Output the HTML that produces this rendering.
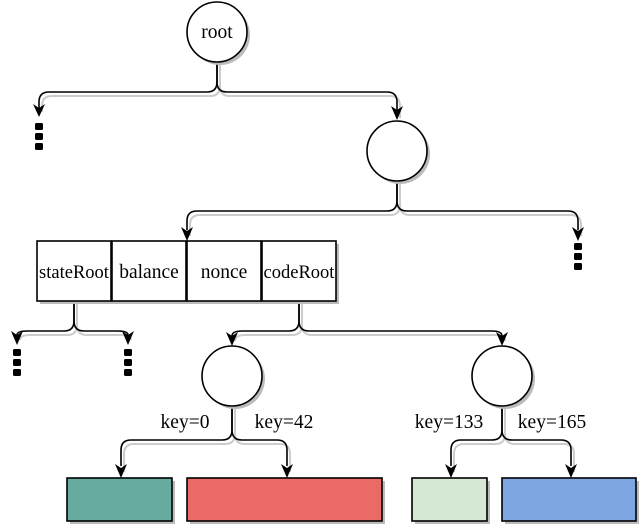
<!DOCTYPE html>
<html><head><meta charset="utf-8"><style>
html,body{margin:0;padding:0;background:#fff;}
svg{display:block;}
text{font-family:"Liberation Serif",serif;font-size:19.5px;fill:#000;}
</style></head><body>
<svg width="641" height="528" viewBox="0 0 641 528" xmlns="http://www.w3.org/2000/svg">
<g fill="none" stroke="#ccc" stroke-width="2">
<path d="M220,65 V86 Q220,96 210,96 H52 Q42,96 42,106 V112"/>
<path d="M220,65 V86 Q220,96 230,96 H390 Q400,96 400,106 V118"/>
<path d="M400,184 V205 Q400,215 390,215 H200 Q190,215 190,225 V236"/>
<path d="M400,184 V205 Q400,215 410,215 H571 Q581,215 581,225 V236"/>
<path d="M77,304 V325 Q77,335 67,335 H30 Q20,335 20,340"/>
<path d="M77,304 V325 Q77,335 87,335 H121 Q131,335 131,340"/>
<path d="M302,304 V325 Q302,335 292,335 H245 Q235,335 235,341"/>
<path d="M302,304 V325 Q302,335 312,335 H495 Q505,335 505,341"/>
<path d="M235,409 V434 Q235,444 225,444 H134 Q124,444 124,454 V472"/>
<path d="M235,409 V434 Q235,444 245,444 H280 Q290,444 290,454 V472"/>
<path d="M505,409 V434 Q505,444 495,444 H464 Q454,444 454,454 V472"/>
<path d="M505,409 V434 Q505,444 515,444 H564 Q574,444 574,454 V472"/>
</g>
<g fill="none" stroke="#000" stroke-width="1.6">
<path d="M217,62 V82 Q217,92 207,92 H49 Q39,92 39,102 V108"/>
<path d="M217,62 V82 Q217,92 227,92 H387 Q397,92 397,102 V110"/>
<path d="M397,181 V201 Q397,211 387,211 H197 Q187,211 187,221 V230"/>
<path d="M397,181 V201 Q397,211 407,211 H568 Q578,211 578,221 V230"/>
<path d="M74,301 V321 Q74,331 64,331 H27 Q17,331 17,335"/>
<path d="M74,301 V321 Q74,331 84,331 H118 Q128,331 128,335"/>
<path d="M299,301 V321 Q299,331 289,331 H242 Q232,331 232,336"/>
<path d="M299,301 V321 Q299,331 309,331 H492 Q502,331 502,336"/>
<path d="M232,406 V430 Q232,440 222,440 H131 Q121,440 121,450 V466"/>
<path d="M232,406 V430 Q232,440 242,440 H277 Q287,440 287,450 V466"/>
<path d="M502,406 V430 Q502,440 492,440 H461 Q451,440 451,450 V466"/>
<path d="M502,406 V430 Q502,440 512,440 H561 Q571,440 571,450 V466"/>
</g>
<g fill="#000">
<path d="M33,104 L39,117 L45,104 L39,108Z"/>
<path d="M391,106 L397,120 L403,106 L397,110Z"/>
<path d="M181,227 L187,241 L193,227 L187,231Z"/>
<path d="M572,227 L578,241 L584,227 L578,231Z"/>
<path d="M11,331 L17,345 L23,331 L17,335Z"/>
<path d="M122,331 L128,345 L134,331 L128,335Z"/>
<path d="M226,332 L232,346 L238,332 L232,336Z"/>
<path d="M496,332 L502,346 L508,332 L502,336Z"/>
<path d="M115,464 L121,478 L127,464 L121,468Z"/>
<path d="M281,464 L287,478 L293,464 L287,468Z"/>
<path d="M445,464 L451,478 L457,464 L451,468Z"/>
<path d="M565,464 L571,478 L577,464 L571,468Z"/>
<rect x="35" y="123" width="8" height="7" rx="1.5"/><rect x="35" y="133" width="8" height="7" rx="1.5"/><rect x="35" y="143" width="8" height="7" rx="1.5"/>
<rect x="574" y="243" width="8" height="7" rx="1.5"/><rect x="574" y="253" width="8" height="7" rx="1.5"/><rect x="574" y="263" width="8" height="7" rx="1.5"/>
<rect x="13" y="349" width="8" height="7" rx="1.5"/><rect x="13" y="359" width="8" height="7" rx="1.5"/><rect x="13" y="369" width="8" height="7" rx="1.5"/>
<rect x="124" y="349" width="8" height="7" rx="1.5"/><rect x="124" y="359" width="8" height="7" rx="1.5"/><rect x="124" y="369" width="8" height="7" rx="1.5"/>
</g>
<g fill="#bbb">
<circle cx="220" cy="35" r="30"/><circle cx="400" cy="154" r="30"/>
<ellipse cx="235" cy="379" rx="30" ry="30"/><ellipse cx="505" cy="379" rx="30" ry="30"/>
<rect x="40" y="244" width="299" height="60"/>
<rect x="70" y="481" width="105" height="43"/><rect x="190" y="481" width="195" height="43"/>
<rect x="415" y="481" width="75" height="43"/><rect x="505" y="481" width="134" height="43"/>
</g>
<g stroke="#000" stroke-width="1.6">
<circle cx="217" cy="32" r="30" fill="#fff"/>
<circle cx="397" cy="151" r="30" fill="#fff"/>
<ellipse cx="232" cy="376" rx="30" ry="30" fill="#fff"/>
<ellipse cx="502" cy="376" rx="30" ry="30" fill="#fff"/>
<rect x="37" y="241" width="74" height="60" fill="#fff"/>
<rect x="112" y="241" width="74" height="60" fill="#fff"/>
<rect x="187" y="241" width="74" height="60" fill="#fff"/>
<rect x="262" y="241" width="74" height="60" fill="#fff"/>
<rect x="67" y="478" width="105" height="43" fill="#67AB9F"/>
<rect x="187" y="478" width="195" height="43" fill="#EA6B66"/>
<rect x="412" y="478" width="75" height="43" fill="#D5E8D4"/>
<rect x="502" y="478" width="134" height="43" fill="#7EA6E0"/>
</g>
<text x="217" y="38" text-anchor="middle">root</text>
<text x="74" y="278" text-anchor="middle" style="font-size:18.5px">stateRoot</text>
<text x="149" y="278" text-anchor="middle">balance</text>
<text x="224" y="278" text-anchor="middle">nonce</text>
<text x="299" y="278" text-anchor="middle" style="font-size:18.5px">codeRoot</text>
<text x="185" y="428" text-anchor="middle">key=0</text>
<text x="284" y="428" text-anchor="middle">key=42</text>
<text x="449" y="428" text-anchor="middle">key=133</text>
<text x="552" y="428" text-anchor="middle">key=165</text>
</svg>
</body></html>
